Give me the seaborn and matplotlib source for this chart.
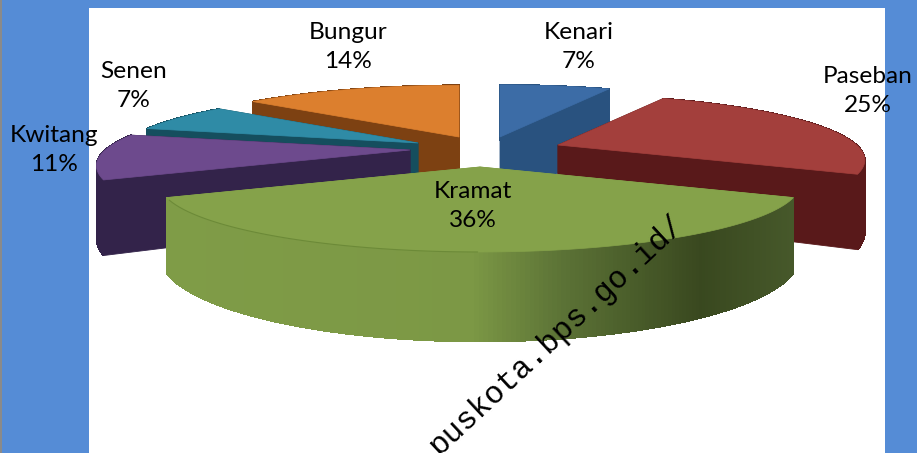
import numpy as np
import matplotlib
matplotlib.use("Agg")
import matplotlib.pyplot as plt
from matplotlib.colors import to_rgb
import seaborn as sns

districts = ["Kenari", "Paseban", "Kramat", "Kwitang", "Senen", "Bungur"]
shares = [7, 25, 36, 11, 7, 14]
top_colors = ["#3c6ca6", "#a33f3c", "#85a24a", "#6d4a8d", "#2f8ba6", "#dc7f2e"]
dark_colors = ["#29527f", "#59191a", "#7f9c47", "#33234a", "#154e5e", "#7d4112"]

# where each exploded slice has its point, in picture pixels
apex_x = [500, 558, 480, 410, 418, 459]
apex_y = [137, 145, 167, 150, 143, 137]
radius = [1.0, 0.96, 1.0, 0.98, 0.95, 0.99]
draw_order = ["Kenari", "Bungur", "Senen", "Paseban", "Kwitang", "Kramat"]

label_x = [579, 868, 473, 54, 134, 348]
label_y = [47, 91, 206, 150, 86, 47]

# shading along the green rim, left to right
rim_x = [168, 470, 560, 700, 790]
rim_colors = ["#7f9c47", "#7c9845", "#5c7336", "#39481f", "#46582a"]

# flattened disc with some perspective
A, B, K, H = 311, 64.6, 0.24, 68


def project(px, py, theta, rho, depth=0.0):
    w = 1 + K * rho * np.cos(theta)
    x = px + rho * A * np.sin(theta) / w
    y = py - rho * B * np.cos(theta) / w + depth * H / w
    return x, y


def rim_color(name, x, dark):
    if name != "Kramat":
        return dark
    rgb = np.array([to_rgb(c) for c in rim_colors])
    return tuple(np.interp(x, rim_x, rgb[:, i]) for i in range(3))


sns.set_theme(style="white")
plt.rcParams["font.family"] = ["Lato", "DejaVu Sans"]

fig = plt.figure(figsize=(9.17, 4.53), dpi=100, facecolor="#558cd6")
ax = fig.add_axes([0, 0, 1, 1])
ax.set_xlim(0, 917)
ax.set_ylim(453, 0)
ax.axis("off")

ax.axvspan(0, 2, color="#8a8a8a", lw=0, zorder=0)
ax.fill([89, 885, 885, 89], [8, 8, 453, 453], color="white", lw=0, zorder=0)

edges = np.radians(np.cumsum([0] + shares) / sum(shares) * 360)

for name in draw_order:
    i = districts.index(name)
    t1, t2 = edges[i], edges[i + 1]
    thetas = np.linspace(t1, t2, 200)
    r = radius[i]
    px, py = apex_x[i], apex_y[i]

    strips = list(zip(thetas[:-1], thetas[1:]))
    back = [s for s in strips if np.cos(s[0]) >= 0]
    front = [s for s in strips if np.cos(s[0]) < 0]

    def draw_strips(group):
        for a, b in group:
            xa, ya = project(px, py, a, r)
            xb, yb = project(px, py, b, r)
            xc, yc = project(px, py, b, r, 1)
            xd, yd = project(px, py, a, r, 1)
            col = rim_color(name, (xa + xb) / 2, dark_colors[i])
            ax.fill([xa, xb, xc, xd], [ya, yb, yc, yd], color=col, lw=0.6, antialiased=False)

    draw_strips(back)
    # the two cut faces
    for t in (t1, t2):
        xe, ye = project(px, py, t, r)
        xf, yf = project(px, py, t, r, 1)
        ax.fill([px, xe, xf, px], [py, ye, yf, py + H], color=dark_colors[i], lw=0.6)
    draw_strips(front)

    xs, ys = project(px, py, thetas, r)
    ax.fill(np.r_[px, xs], np.r_[py, ys], color=top_colors[i], lw=0.5)

    if name == "Kramat":
        # faint crease on the left of the front edge
        crease = thetas[(thetas > np.radians(180)) & (thetas < np.radians(243))]
        xc, yc = project(px, py, crease, r)
        ax.plot(xc, yc, color="#6c8a38", lw=0.8)

for name, share, x, y in zip(districts, shares, label_x, label_y):
    ax.text(x, y, f"{name}\n{share}%", ha="center", va="center", fontsize=17.6,
            color="black", linespacing=1.45)

ax.text(680, 220, "puskota.bps.go.id/", rotation=43, rotation_mode="anchor",
        ha="right", va="center", fontsize=22.5, family="Liberation Mono", color="black")

fig.savefig("out.png", dpi=100, facecolor=fig.get_facecolor())
